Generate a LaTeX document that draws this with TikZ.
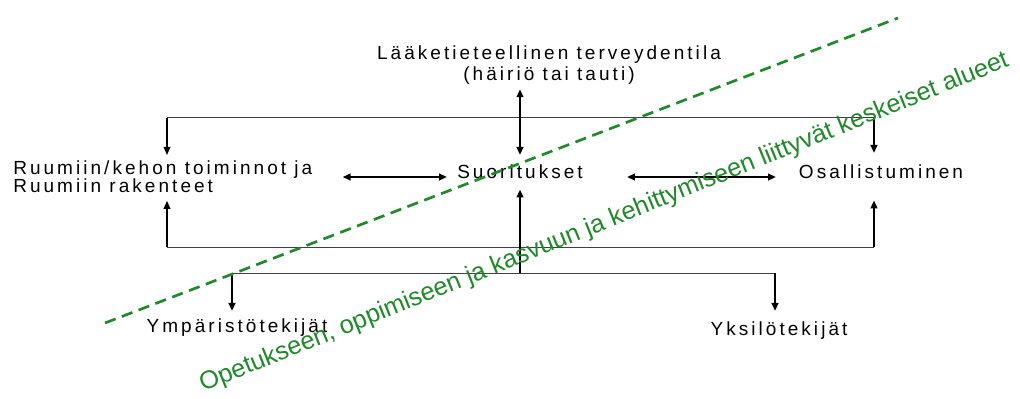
\documentclass[tikz,border=0pt]{standalone}
\usepackage{fontspec}
\setmainfont{Liberation Sans}[LetterSpace=16]
\newfontfamily\notefont{Liberation Sans}
\usetikzlibrary{arrows.meta,positioning}
\definecolor{Note}{HTML}{1F8A2A}
\definecolor{Rail}{HTML}{404040}
\newcommand\tightlines{\lineskiplimit=-8pt\relax}
\tikzset{
  term/.style={font=\fontsize{14.25pt}{15.75pt}\selectfont,inner sep=#1},
  term/.default=5pt,
  rail/.style={draw=Rail,line width=0.75pt},
  link/.style={-{Triangle[length=6pt,width=5pt]},line width=1.6pt},
  thinlink/.style={link,line width=0.9pt},
  twoway/.style={{Triangle[length=6pt,width=5pt]}-{Triangle[length=6pt,width=5pt]},line width=1.6pt},
  divider/.style={draw=Note,line width=2pt,dash pattern=on 8.5pt off 5pt},
  note/.style={font=\notefont\fontsize{19pt}{22pt}\selectfont,text=Note,rotate=22,anchor=base west,inner sep=0pt}
}
\begin{document}
\begin{tikzpicture}[x=0.75pt,y=-0.75pt]
  \fill[white] (0,0) rectangle (1020,399);
  \useasboundingbox (0,0) rectangle (1020,399);
  % components
  \node[term=3.75pt,align=center,anchor=north] (health) at (549,40) {Lääketieteellinen terveydentila\\(häiriö tai tauti)};
  \node[term=3.75pt,align=left,anchor=north west,font=\fontsize{14.25pt}{13.5pt}\selectfont\tightlines] (body) at (8,155) {Ruumiin/kehon toiminnot ja\\Ruumiin rakenteet};
  \node[term=7.5pt,anchor=base] (activity) at (520,179) {Suoritukset};
  \node[term=9pt,anchor=base] (part) at (881,179) {Osallistuminen};
  \node[term=5.25pt,anchor=base] (env) at (237,332) {Ympäristötekijät};
  \node[term=7.5pt,anchor=base] (pers) at (779,335) {Yksilötekijät};
  % junctions
  \coordinate (railtopL) at (167,118);
  \coordinate (railtopR) at (874,118);
  \coordinate (railbotL) at (167,247);
  \coordinate (railbotR) at (874,247);
  \coordinate (ctx) at (520,273);
  \coordinate (ctxL) at (232,273);
  \coordinate (ctxR) at (775,273);
  \coordinate (midrow) at (0,177);
  % connectors
  \draw[rail] (railtopL) -- (railtopR);
  \draw[rail] (railbotL) -- (railbotR);
  \draw[rail] (ctxL) -- (ctxR);
  \draw[thinlink] (railtopL) -- (railtopL |- body.north);
  \draw[thinlink,shorten >=2.5pt] (railbotL) -- (railbotL |- body.south);
  \draw[link] (railtopR) -- (railtopR |- part.north);
  \draw[link,shorten >=6.75pt] (railbotR) -- (railbotR |- part.south);
  \draw[twoway] (health.south -| activity) -- (activity.north);
  \draw[link] (ctx) -- (activity.south);
  \draw[twoway,shorten <=18.75pt] (body.east |- midrow) -- (activity.west |- midrow);
  \draw[twoway,shorten <=25.5pt,shorten >=8pt] (activity.east |- midrow) -- (part.west |- midrow);
  \draw[link] (ctxL) -- (ctxL |- env.north);
  \draw[link] (ctxR) -- (ctxR |- pers.north);
  % educational areas
  \draw[divider] (105,323) -- (898,18);
  \node[note] (areas) at (203,392) {Opetukseen, oppimiseen ja kasvuun ja kehittymiseen liittyvät keskeiset alueet};
\end{tikzpicture}
\end{document}
